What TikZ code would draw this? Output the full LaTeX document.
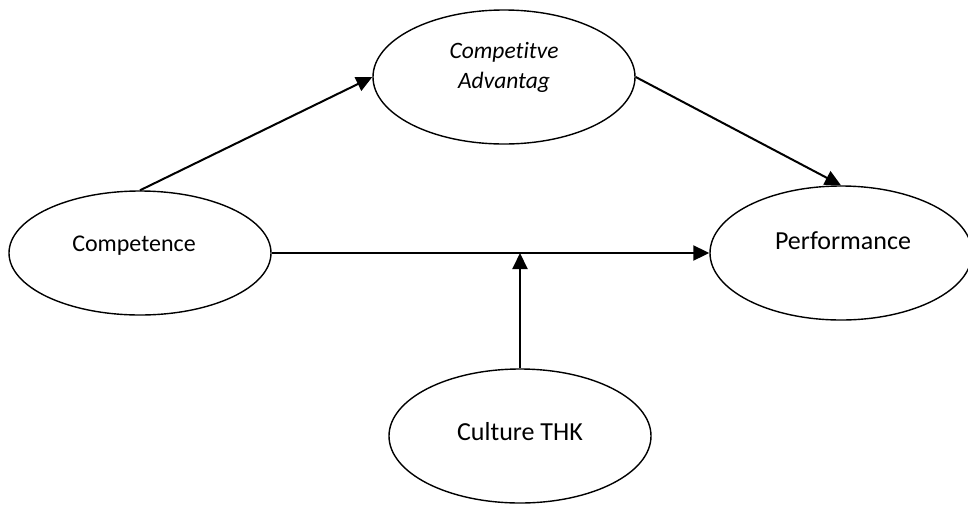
\documentclass[tikz,border=0pt]{standalone}
\usepackage{fontspec}
\setmainfont{Carlito}[Ligatures=NoCommon]
\usetikzlibrary{shapes.geometric,arrows.meta}
\begin{document}
\begin{tikzpicture}[x=1pt,y=-1pt,
  oval/.style={ellipse,draw=black,line width=1.4pt,inner sep=0pt,minimum width=262pt,minimum height=134pt},
  lbl/.style={inner sep=0pt,align=center},
  conn/.style={line width=2pt,-{Triangle[length=16pt,width=15pt]}}]
\useasboundingbox (0,0) rectangle (968,504);
\node[oval] (ca) at (504,77) {};
\node[oval,minimum height=124pt] (comp) at (140,253) {};
\node[oval] (perf) at (841,253) {};
\node[oval] (cult) at (520,436) {};
\node[lbl,font=\fontsize{23.5}{30}\selectfont\itshape] (caT) at (504,67) {Competitve\\Advantag};
\node[lbl,font=\fontsize{24}{29}\selectfont] (compT) at (134,246) {Competence};
\node[lbl,font=\fontsize{26}{31}\selectfont] (perfT) at (843,241) {Performance};
\node[lbl,font=\fontsize{26}{31}\selectfont] (cultT) at (520,432) {Culture THK};
\coordinate (j) at (520,253);
\draw[conn] (comp.north) -- (ca.west);
\draw[conn] (ca.east) -- (perf.north);
\draw[conn] (comp.east) -- (perf.west);
\draw[conn] (cult.north) -- (j);
\end{tikzpicture}
\end{document}
